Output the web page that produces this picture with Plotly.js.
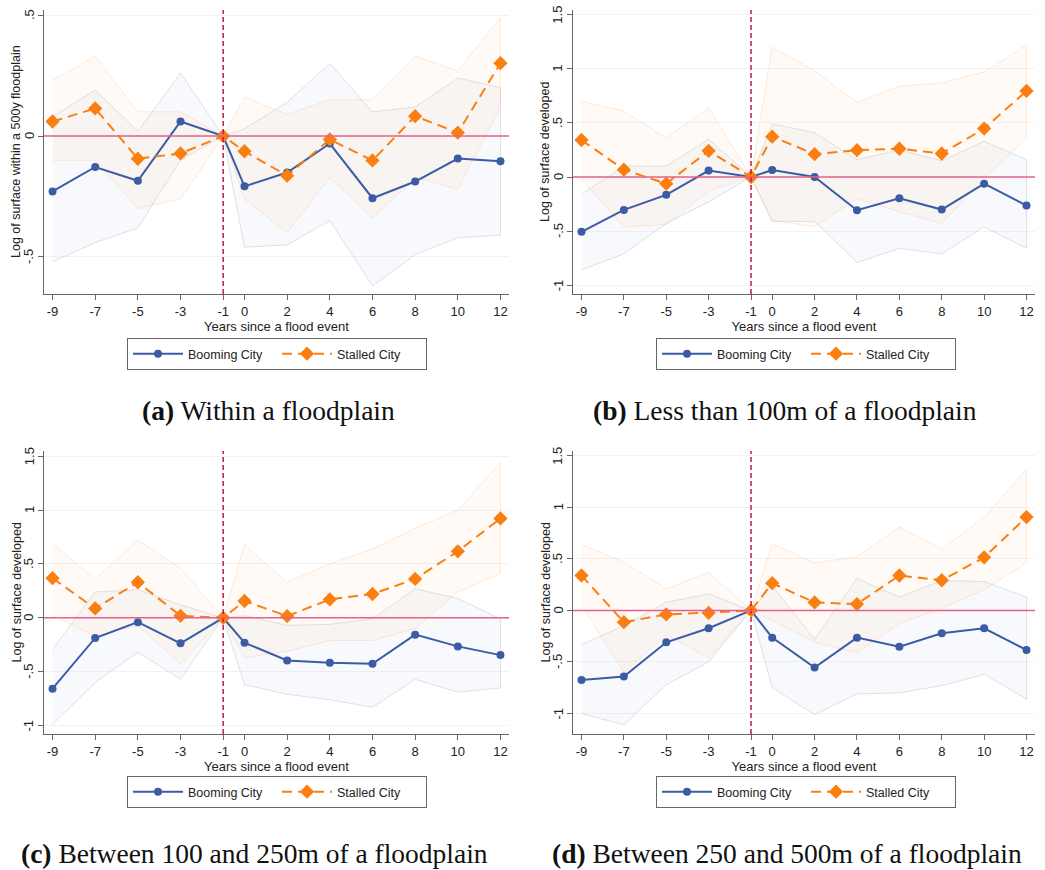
<!DOCTYPE html>
<html>
<head>
<meta charset="utf-8">
<script src="https://cdn.plot.ly/plotly-3.0.1.min.js"></script>
<style>html,body{margin:0;padding:0;background:#fff;}#chart{width:1045px;height:870px;}</style>
</head>
<body>
<div id="chart"></div>
<script>
// ---------- DATA ----------
const years = [-9, -7, -5, -3, -1, 0, 2, 4, 6, 8, 10, 12];
const xTickText = ["-9", "-7", "-5", "-3", "-1", "0", "2", "4", "6", "8", "10", "12"];
const seriesNames = ["Booming City", "Stalled City"];
const captions = ["<b>(a)</b> Within a floodplain", "<b>(b)</b> Less than 100m of a floodplain",
                  "<b>(c)</b> Between 100 and 250m of a floodplain", "<b>(d)</b> Between 250 and 500m of a floodplain"];
const yTitles = ["Log of surface within a 500y floodplain", "Log of surface developed",
                 "Log of surface developed", "Log of surface developed"];
const xTitle = "Years since a flood event";

// Panel (a)
const boomA = [-0.229, -0.128, -0.185, 0.060, 0, -0.208, -0.151, -0.031, -0.257, -0.188, -0.093, -0.104];
const boomA_hi = [0.08, 0.19, 0.02, 0.26, 0, 0.03, 0.14, 0.30, 0.10, 0.12, 0.24, 0.20];
const boomA_lo = [-0.52, -0.44, -0.38, -0.10, 0, -0.46, -0.45, -0.35, -0.62, -0.49, -0.42, -0.41];
const stallA = [0.060, 0.114, -0.094, -0.072, 0, -0.063, -0.164, -0.014, -0.101, 0.082, 0.014, 0.301];
const stallA_hi = [0.23, 0.33, 0.10, 0.10, 0, 0.16, 0.09, 0.15, 0.15, 0.33, 0.27, 0.49];
const stallA_lo = [-0.10, -0.10, -0.30, -0.26, 0, -0.26, -0.40, -0.17, -0.34, -0.17, -0.22, 0.12];

// Panel (b)
const boomB = [-0.506, -0.304, -0.165, 0.059, 0, 0.065, 0.0, -0.307, -0.196, -0.301, -0.062, -0.264];
const boomB_hi = [-0.16, 0.10, 0.10, 0.35, 0, 0.49, 0.41, 0.16, 0.25, 0.15, 0.33, 0.16];
const boomB_lo = [-0.86, -0.71, -0.43, -0.23, 0, -0.41, -0.41, -0.79, -0.66, -0.71, -0.46, -0.66];
const stallB = [0.342, 0.068, -0.062, 0.242, 0, 0.373, 0.211, 0.248, 0.261, 0.217, 0.447, 0.795];
const stallB_hi = [0.70, 0.61, 0.36, 0.64, 0, 1.20, 0.98, 0.69, 0.84, 0.87, 0.97, 1.22];
const stallB_lo = [-0.02, -0.46, -0.44, -0.13, 0, -0.40, -0.46, -0.20, -0.32, -0.43, -0.01, 0.36];

// Panel (c)
const boomC = [-0.657, -0.187, -0.040, -0.237, 0, -0.231, -0.396, -0.417, -0.427, -0.156, -0.265, -0.346];
const boomC_hi = [-0.29, 0.24, 0.26, 0.12, 0, 0.02, -0.07, -0.06, -0.01, 0.27, 0.18, -0.01];
const boomC_lo = [-0.99, -0.60, -0.32, -0.57, 0, -0.62, -0.71, -0.76, -0.83, -0.57, -0.69, -0.65];
const stallC = [0.368, 0.087, 0.330, 0.019, 0, 0.156, 0.016, 0.171, 0.221, 0.361, 0.617, 0.922];
const stallC_hi = [0.69, 0.36, 0.72, 0.46, 0, 0.68, 0.33, 0.50, 0.64, 0.83, 1.00, 1.44];
const stallC_lo = [0.02, -0.17, -0.07, -0.43, 0, -0.37, -0.31, -0.21, -0.21, -0.10, 0.24, 0.41];

// Panel (d)
const boomD = [-0.674, -0.642, -0.309, -0.173, 0, -0.264, -0.554, -0.264, -0.352, -0.221, -0.173, -0.384];
const boomD_hi = [-0.33, -0.15, 0.08, 0.16, 0, 0.24, -0.28, 0.31, 0.13, 0.29, 0.28, 0.13];
const boomD_lo = [-1.00, -1.11, -0.72, -0.50, 0, -0.75, -1.01, -0.81, -0.80, -0.73, -0.62, -0.86];
const stallD = [0.339, -0.114, -0.039, -0.023, 0, 0.264, 0.078, 0.062, 0.339, 0.293, 0.515, 0.906];
const stallD_hi = [0.64, 0.47, 0.21, 0.37, 0, 0.65, 0.46, 0.52, 0.81, 0.60, 0.90, 1.37];
const stallD_lo = [0.05, -0.60, -0.24, -0.46, 0, -0.10, -0.31, -0.41, -0.13, 0.02, 0.20, 0.46];

const yTickValsA = [-0.5, 0, 0.5];
const yTickTextA = ["-.5", "0", ".5"];
const yTickValsB = [-1, -0.5, 0, 0.5, 1, 1.5];
const yTickTextB = ["-1", "-.5", "0", ".5", "1", "1.5"];

// ---------- STYLE ----------
const BLUE = "#3b5ba5", ORANGE = "#fb7f10";
const FONT = "Liberation Sans, Arial, sans-serif";
const panels = [
  {boom: boomA, bhi: boomA_hi, blo: boomA_lo, stall: stallA, shi: stallA_hi, slo: stallA_lo,
   tv: yTickValsA, tt: yTickTextA, yr: [-0.653, 0.521], xd: [44, 509], yd: [10, 294], leg: [127, 338], cap: [268, 411]},
  {boom: boomB, bhi: boomB_hi, blo: boomB_lo, stall: stallB, shi: stallB_hi, slo: stallB_lo,
   tv: yTickValsB, tt: yTickTextB, yr: [-1.081, 1.543], xd: [573, 1035], yd: [10, 294], leg: [656, 338], cap: [785, 411]},
  {boom: boomC, bhi: boomC_hi, blo: boomC_lo, stall: stallC, shi: stallC_hi, slo: stallC_lo,
   tv: yTickValsB, tt: yTickTextB, yr: [-1.078, 1.548], xd: [44, 509], yd: [451, 734], leg: [127, 776], cap: [254, 853]},
  {boom: boomD, bhi: boomD_hi, blo: boomD_lo, stall: stallD, shi: stallD_hi, slo: stallD_lo,
   tv: yTickValsB, tt: yTickTextB, yr: [-1.199, 1.547], xd: [573, 1035], yd: [451, 734], leg: [656, 776], cap: [787, 853]}
];

const W = 1045, H = 870;
const data = [];
const layout = {
  width: W, height: H, margin: {l: 0, r: 0, t: 0, b: 0},
  paper_bgcolor: "#fff", plot_bgcolor: "rgba(0,0,0,0)",
  font: {family: FONT, color: "#222"},
  shapes: [], annotations: [], hovermode: false
};

panels.forEach((p, i) => {
  const n = i + 1;
  const xa = n === 1 ? "x" : "x" + n, ya = n === 1 ? "y" : "y" + n;
  const xk = n === 1 ? "xaxis" : "xaxis" + n, yk = n === 1 ? "yaxis" : "yaxis" + n;
  const lg = n === 1 ? "legend" : "legend" + n;
  const rev = years.slice().reverse();
  // confidence bands
  data.push({x: years.concat(rev), y: p.bhi.concat(p.blo.slice().reverse()), xaxis: xa, yaxis: ya,
    type: "scatter", mode: "lines", fill: "toself", fillcolor: "rgba(190,208,232,0.13)",
    line: {color: "rgba(150,162,185,0.30)", width: 1}, showlegend: false, hoverinfo: "skip"});
  data.push({x: years.concat(rev), y: p.shi.concat(p.slo.slice().reverse()), xaxis: xa, yaxis: ya,
    type: "scatter", mode: "lines", fill: "toself", fillcolor: "rgba(255,205,160,0.10)",
    line: {color: "rgba(255,190,140,0.32)", width: 1}, showlegend: false, hoverinfo: "skip"});
  // estimates
  data.push({x: years, y: p.boom, xaxis: xa, yaxis: ya, type: "scatter", mode: "lines+markers",
    name: seriesNames[0], legend: lg, line: {color: BLUE, width: 2},
    marker: {symbol: "circle", size: 8, color: BLUE}});
  data.push({x: years, y: p.stall, xaxis: xa, yaxis: ya, type: "scatter", mode: "lines+markers",
    name: seriesNames[1], legend: lg, line: {color: ORANGE, width: 2, dash: "10px,6px"},
    marker: {symbol: "diamond", size: 11, color: ORANGE}});

  layout[xk] = {
    domain: [p.xd[0] / W, p.xd[1] / W], anchor: ya, range: [-9.4, 12.4],
    tickvals: years, ticktext: xTickText, ticks: "outside", ticklen: 5, tickcolor: "#666",
    showline: true, linecolor: "#666", linewidth: 1.3, showgrid: false, zeroline: false,
    tickfont: {size: 13, color: "#222", family: FONT},
    title: {text: xTitle, font: {size: 13, color: "#222", family: FONT}, standoff: 2}
  };
  layout[yk] = {
    domain: [1 - p.yd[1] / H, 1 - p.yd[0] / H], anchor: xa, range: p.yr,
    tickvals: p.tv, ticks: "outside", ticklen: 5, tickcolor: "#666", showticklabels: false,
    showline: true, linecolor: "#666", linewidth: 1.3, showgrid: true, gridcolor: "#f2f2f2", zeroline: false
  };
  // rotated y tick labels (Stata style) placed on the axis scale
  p.tv.forEach((v, k) => {
    layout.annotations.push({xref: "paper", yref: ya, x: (p.xd[0] - 15) / W, y: v, text: p.tt[k],
      textangle: -90, showarrow: false, xanchor: "center", yanchor: "middle",
      font: {size: 13, color: "#222", family: FONT}});
  });
  layout.annotations.push({xref: "paper", yref: ya + " domain", x: (p.xd[0] - 28) / W, y: 0.5, text: yTitles[i],
    textangle: -90, showarrow: false, xanchor: "center", yanchor: "middle",
    font: {size: 12.5, color: "#222", family: FONT}});
  layout[lg] = {
    x: p.leg[0] / W, y: 1 - p.leg[1] / H, xanchor: "left", yanchor: "top",
    orientation: "h", bordercolor: "#666", borderwidth: 1, bgcolor: "#fff",
    font: {size: 12.5, color: "#222", family: FONT}, itemwidth: 50, entrywidth: 84, entrywidthmode: "pixels"
  };
  // reference lines
  layout.shapes.push({type: "line", xref: xa, yref: ya + " domain", x0: -1, x1: -1, y0: 0, y1: 1,
    line: {color: "#d0163e", width: 1.5, dash: "5px,3px"}, layer: "above"});
  layout.shapes.push({type: "line", xref: xa + " domain", yref: ya, x0: 0, x1: 1, y0: 0, y1: 0,
    line: {color: "#e8608a", width: 1.5}, layer: "above"});
  layout.annotations.push({xref: "paper", yref: "paper", x: p.cap[0] / W, y: 1 - p.cap[1] / H,
    xanchor: "center", yanchor: "middle", showarrow: false, text: captions[i],
    font: {family: "Liberation Serif, Times New Roman, serif", size: 27.5, color: "#111"}});
});

Plotly.newPlot("chart", data, layout, {staticPlot: true});
</script>
</body>
</html>
